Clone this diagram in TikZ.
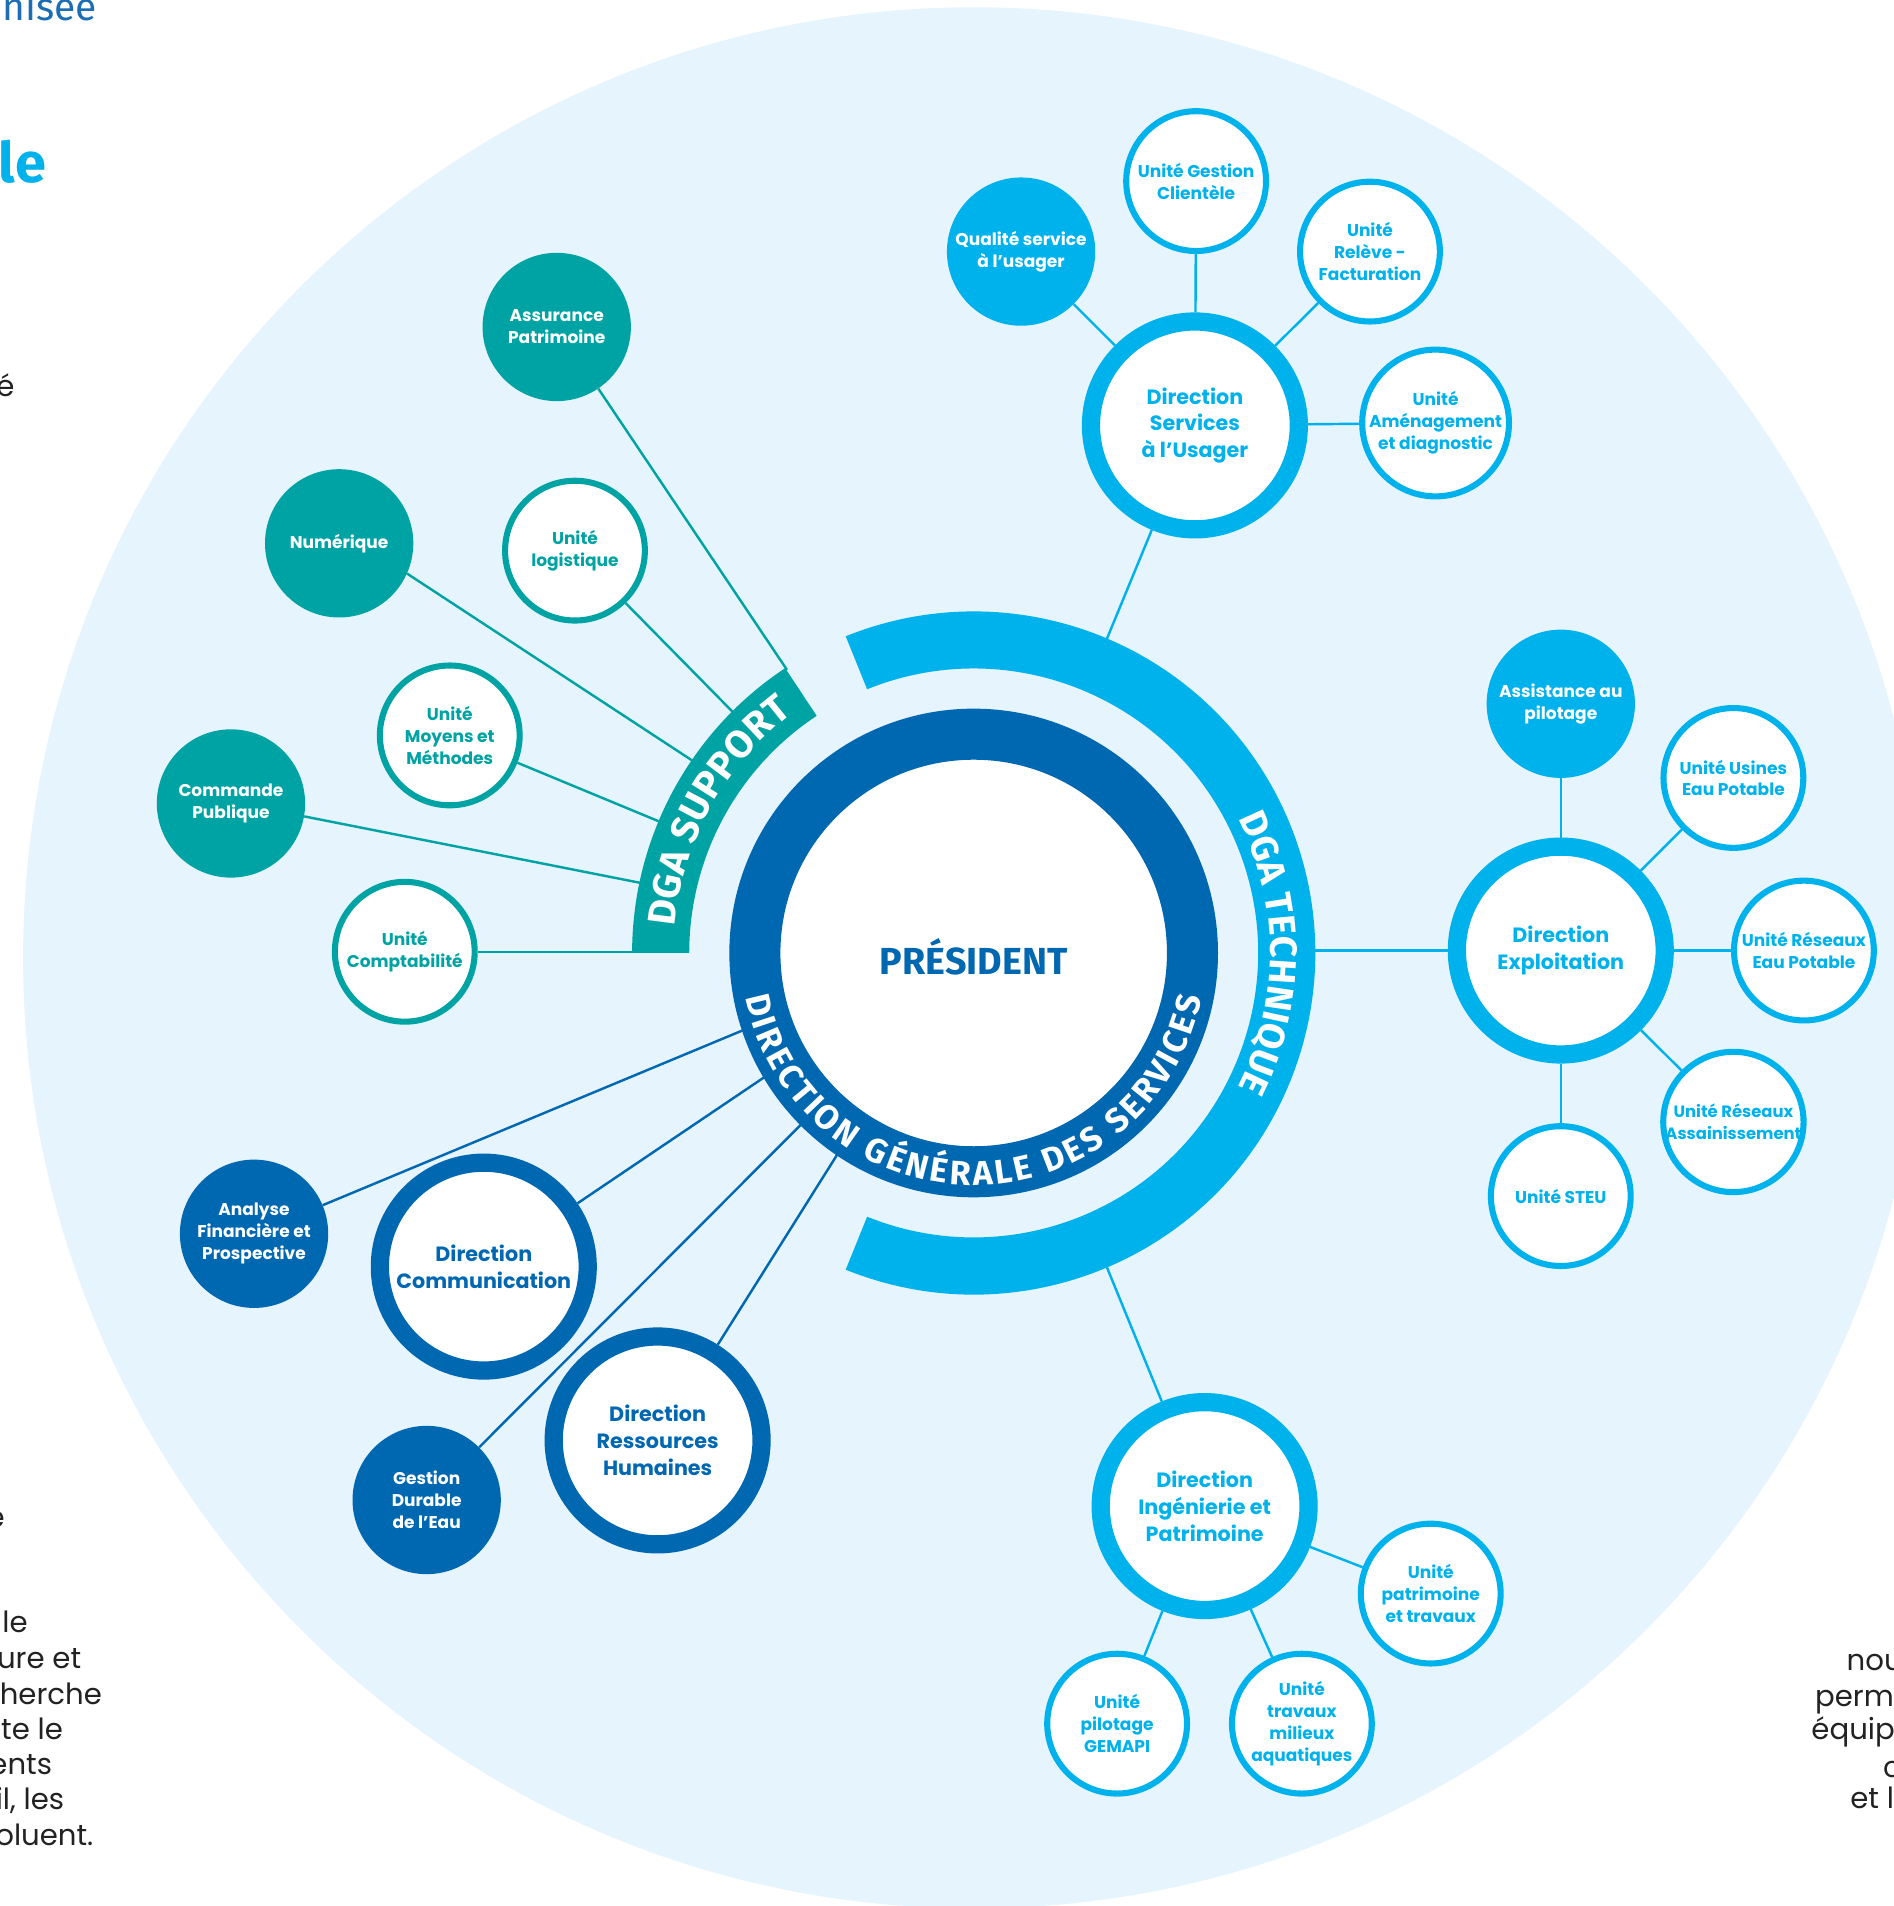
\documentclass[tikz,border=0pt]{standalone}
\usepackage{fontspec}
\setmainfont{Poppins}
\newfontfamily\fira{Fira Sans}
\usetikzlibrary{calc,decorations.text}
\definecolor{bgc}{HTML}{E6F4FD}
\definecolor{dblue}{HTML}{0067B1}
\definecolor{lblue}{HTML}{00B2EB}
\definecolor{steal}{HTML}{00A3A4}
\definecolor{bodyc}{HTML}{222222}
\definecolor{titleb}{HTML}{1B6DB4}
\pgfdeclarelayer{bg}
\pgfsetlayers{bg,main}
\newcommand\unitfont{\bfseries\fontsize{14}{18}\selectfont}
\newcommand\dirfont{\bfseries\fontsize{17}{22}\selectfont}
\newcommand\bodyfont{\fontsize{24}{29}\selectfont}
\tikzset{
  unitring/.style={circle, draw=#1, line width=5pt, fill=white, minimum size=115pt, inner sep=0pt, align=center, text=#1, font=\unitfont},
  unitfill/.style={circle, fill=#1, minimum size=122pt, inner sep=0pt, align=center, text=white, font=\unitfont},
  dirring/.style={circle, draw=#1, line width=15pt, fill=white, minimum size=171pt, inner sep=0pt, align=center, text=#1, font=\dirfont},
  conn/.style={draw=#1, line width=2pt},
  bodyl/.style={anchor=base east, inner sep=0pt, font=\bodyfont, text=bodyc},
  bodyr/.style={anchor=base west, inner sep=0pt, font=\bodyfont, text=bodyc},
}
\begin{document}
\begin{tikzpicture}[x=1pt,y=1pt]
\useasboundingbox (0,0) rectangle (1558,1568);
\coordinate (C) at (801,784);
\begin{pgfonlayer}{bg}
\fill[bgc] (801,780) circle[radius=782];
\end{pgfonlayer}

% DGA bands
\fill[steal] ($(C)+(123.5:234)$) arc[start angle=123.5,end angle=180,radius=234]
  -- ($(C)+(180:281)$) arc[start angle=180,end angle=123.5,radius=281] -- cycle;
\fill[lblue] ($(C)+(112:234)$) arc[start angle=112,end angle=-112,radius=234]
  -- ($(C)+(-112:281)$) arc[start angle=-112,end angle=112,radius=281] -- cycle;

\path[decorate, decoration={text along path, text color=white, text align={fit to path},
  text={|\fira\bfseries\fontsize{32}{32}\selectfont|DGA SUPPORT}}]
  ($(C)+(175:247)$) arc[start angle=175,end angle=127,radius=247];
\path[decorate, decoration={text along path, text color=white, text align={fit to path},
  text={|\fira\bfseries\fontsize{31}{31}\selectfont|DGA TECHNIQUE}}]
  ($(C)+(27:244)$) arc[start angle=27,end angle=-27,radius=244];

% President
\node[circle, draw=dblue, line width=42pt, fill=white, minimum size=360pt, inner sep=0pt] (pres) at (C) {};
\node[anchor=base, inner sep=0pt, font=\fira\bfseries\fontsize{31}{31}\selectfont, text=dblue] (prestxt) at (801,766) {PRÉSIDENT};
\path[decorate, decoration={text along path, text color=white, text align={fit to path},
  text={|\fira\bfseries\fontsize{28}{28}\selectfont|DIRECTION GÉNÉRALE DES SERVICES}}]
  ($(C)+(191:191)$) arc[start angle=191,end angle=349,radius=191];

% Technique: services a l'usager
\node[dirring=lblue] (dsu) at (983,1218) {Direction\\Services\\à l’Usager};
\node[unitring=lblue] (gc) at (984,1419) {Unité Gestion\\Clientèle};
\node[unitfill=lblue] (qs) at (840,1361) {Qualité service\\à l’usager};
\node[unitring=lblue] (rel) at (1127,1361) {Unité\\Relève -\\Facturation};
\node[unitring=lblue] (ame) at (1181,1220) {Unité\\Aménagement\\et diagnostic};

% Technique: exploitation
\node[dirring=lblue] (de) at (1284,786) {Direction\\Exploitation};
\node[unitfill=lblue] (ap) at (1284,989) {Assistance au\\pilotage};
\node[unitring=lblue] (uep) at (1426,928) {Unité Usines\\Eau Potable};
\node[unitring=lblue] (rep) at (1484,786) {Unité Réseaux\\Eau Potable};
\node[unitring=lblue, font=\bfseries\fontsize{13.5}{18}\selectfont] (ra) at (1426,645) {Unité Réseaux\\Assainissement};
\node[unitring=lblue] (steu) at (1284,584) {Unité STEU};

% Technique: ingenierie
\node[dirring=lblue] (dip) at (991,329) {Direction\\Ingénierie et\\Patrimoine};
\node[unitring=lblue] (upt) at (1177,257) {Unité\\patrimoine\\et travaux};
\node[unitring=lblue] (gem) at (919,150) {Unité\\pilotage\\GEMAPI};
\node[unitring=lblue] (tma) at (1071,150) {Unité\\travaux\\milieux\\aquatiques};

% Support
\node[unitfill=steal] (ass) at (458,1299) {Assurance\\Patrimoine};
\node[unitfill=steal] (num) at (279,1121) {Numérique};
\node[unitring=steal] (log) at (473,1115) {Unité\\logistique};
\node[unitring=steal] (mm) at (370,963) {Unité\\Moyens et\\Méthodes};
\node[unitfill=steal] (cp) at (190,907) {Commande\\Publique};
\node[unitring=steal] (cpt) at (333,785) {Unité\\Comptabilité};

% DGS
\node[unitfill=dblue] (afp) at (209,553) {Analyse\\Financière et\\Prospective};
\node[dirring=dblue] (com) at (398,526) {Direction\\Communication};
\node[unitfill=dblue] (gde) at (351,334) {Gestion\\Durable\\de l’Eau};
\node[dirring=dblue] (rh) at (541,383) {Direction\\Ressources\\Humaines};

% band end points
\coordinate (tDSU) at ($(C)+(67:270)$);
\coordinate (tDIP) at ($(C)+(-67:270)$);
\coordinate (sAss) at ($(C)+(123.4:279)$);
\coordinate (sNum) at ($(C)+(145.6:272)$);
\coordinate (sLog) at ($(C)+(135:272)$);
\coordinate (sMM) at ($(C)+(157.3:272)$);
\coordinate (sCP) at ($(C)+(168.1:272)$);
\coordinate (sCPT) at ($(C)+(180:270)$);
\coordinate (pAFP) at ($(C)+(198.3:190)$);
\coordinate (pCOM) at ($(C)+(210.5:190)$);
\coordinate (pGDE) at ($(C)+(224.8:190)$);
\coordinate (pRH) at ($(C)+(235.8:190)$);

\begin{pgfonlayer}{bg}
\draw[conn=lblue] (dsu) -- (tDSU);
\draw[conn=lblue] (de.west) -- ++(-120,0);
\draw[conn=lblue] (dip) -- (tDIP);
\draw[conn=lblue] (dsu) -- (gc);
\draw[conn=lblue] (dsu) -- (qs);
\draw[conn=lblue] (dsu) -- (rel);
\draw[conn=lblue] (dsu) -- (ame);
\draw[conn=lblue] (de) -- (ap);
\draw[conn=lblue] (de) -- (uep);
\draw[conn=lblue] (de) -- (rep);
\draw[conn=lblue] (de) -- (ra);
\draw[conn=lblue] (de) -- (steu);
\draw[conn=lblue] (dip) -- (upt);
\draw[conn=lblue] (dip) -- (gem);
\draw[conn=lblue] (dip) -- (tma);
\draw[conn=steal] (ass.-56) -- (sAss);
\draw[conn=steal] (num.-24) -- (sNum);
\draw[conn=steal] (log.-46) -- (sLog);
\draw[conn=steal] (mm.-22) -- (sMM);
\draw[conn=steal] (cp.-10) -- (sCP);
\draw[conn=steal] (cpt.east) -- (cpt.east -| sCPT);
\draw[conn=dblue] (afp) -- (pAFP);
\draw[conn=dblue] (com) -- (pCOM);
\draw[conn=dblue] (gde) -- (pGDE);
\draw[conn=dblue] (rh) -- (pRH);
\end{pgfonlayer}

% page fragments
\node[anchor=base east, inner sep=0pt, font=\fira\fontsize{32}{32}\selectfont, text=titleb] (t1) at (80,1551) {nisée};
\node[anchor=base east, inner sep=0pt, font=\fira\bfseries\fontsize{46}{46}\selectfont, text=lblue] (t2) at (38,1418) {le};
\node[bodyl] (l0) at (12,1242) {é};
\node[bodyl] (l1) at (4,311) {e};
\node[bodyl] (l2) at (23,225) {le};
\node[bodyl] (l3) at (67,195) {ure et};
\node[bodyl] (l4) at (84,166) {cherche};
\node[bodyl] (l5) at (52,137) {ite le};
\node[bodyl] (l6) at (43,108) {ents};
\node[bodyl] (l7) at (53,79) {il, les};
\node[bodyl] (l8) at (77,50) {oluent.};
\node[bodyr] (r1) at (1519,194) {nou};
\node[bodyr] (r2) at (1493,164) {perme};
\node[bodyr] (r3) at (1490,137) {équip};
\node[bodyr] (r4) at (1549,106) {c};
\node[bodyr] (r5) at (1522,80) {et le};
\end{tikzpicture}
\end{document}
